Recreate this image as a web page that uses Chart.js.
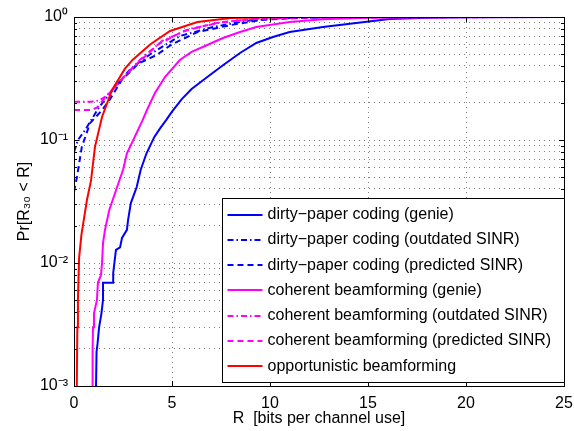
<!DOCTYPE html>
<html>
<head>
<meta charset="utf-8">
<script src="https://cdn.jsdelivr.net/npm/chart.js@4.4.1/dist/chart.umd.min.js"></script>
<style>
  html, body { margin: 0; padding: 0; background: #fff; }
</style>
</head>
<body>
<canvas id="chart" width="574" height="431"></canvas>
<script>
// values (R in bits per channel use, P = Pr[R30 < R])
const dpcGenieR = [1.12, 1.15, 1.2, 1.28, 1.4, 1.48, 1.48, 2.0, 2.0, 2.14, 2.35, 2.45, 2.7, 2.76, 2.9, 3.2, 3.4, 3.7, 4.1, 4.4, 4.7, 5.0, 5.5, 6.0, 6.8, 7.6, 8.47, 9.3, 10.15, 11, 12.7, 14.4, 16.1, 18, 20, 25]
const dpcGenieP = [0.0009, 0.0019, 0.0022, 0.003, 0.0039, 0.005, 0.0069, 0.0069, 0.0083, 0.0128, 0.0134, 0.016, 0.0186, 0.0224, 0.0307, 0.0415, 0.057, 0.078, 0.106, 0.125, 0.145, 0.17, 0.215, 0.26, 0.325, 0.405, 0.51, 0.615, 0.687, 0.755, 0.83, 0.894, 0.963, 0.985, 0.995, 1]

const dpcOutdatedR = [0, 0.2, 0.56, 1.28, 2.1, 2.9, 3.9, 5.4, 7.1, 8.8, 10.5, 12.5, 15, 25]
const dpcOutdatedP = [0.08, 0.1, 0.12, 0.185, 0.27, 0.38, 0.5, 0.7, 0.83, 0.93, 0.975, 0.992, 0.998, 1]

const dpcPredictedR = [0, 0.15, 0.4, 0.82, 1.43, 1.8, 2.45, 3.3, 4.2, 5.0, 6.3, 8, 9.6, 11.5, 14, 25]
const dpcPredictedP = [0.038, 0.05, 0.088, 0.137, 0.175, 0.21, 0.31, 0.42, 0.49, 0.6, 0.755, 0.86, 0.95, 0.985, 0.997, 1]

const cbGenieR = [0.92, 0.95, 0.97, 1.02, 1.17, 1.22, 1.38, 1.43, 1.48, 1.58, 1.8, 2.2, 2.5, 2.7, 3.1, 3.5, 3.72, 4.13, 4.64, 5.4, 6.0, 6.8, 7.6, 8.47, 9.3, 11, 12.7, 15, 18, 25]
const cbGenieP = [0.0009, 0.002, 0.003, 0.0039, 0.005, 0.0069, 0.008, 0.01, 0.0145, 0.0186, 0.027, 0.0415, 0.057, 0.078, 0.106, 0.145, 0.175, 0.241, 0.325, 0.447, 0.52, 0.592, 0.675, 0.755, 0.83, 0.91, 0.958, 0.985, 0.996, 1]

const cbOutdatedR = [0, 0.9, 1.3, 1.6, 2.0, 2.5, 3.37, 4.5, 5.9, 7.6, 9.6, 12, 25]
const cbOutdatedP = [0.205, 0.205, 0.21, 0.225, 0.26, 0.32, 0.45, 0.64, 0.8, 0.91, 0.975, 0.995, 1]

const cbPredictedR = [0, 0.92, 1.2, 1.58, 2.0, 2.5, 3.3, 4.3, 5.6, 7.2, 9, 11.5, 25]
const cbPredictedP = [0.175, 0.175, 0.185, 0.22, 0.26, 0.32, 0.43, 0.6, 0.77, 0.89, 0.96, 0.992, 1]

const obfR = [0.14, 0.17, 0.2, 0.26, 0.38, 0.66, 0.87, 1.07, 1.43, 1.94, 2.6, 3.0, 3.9, 4.9, 6.3, 8, 10, 12, 25]
const obfP = [0.0009, 0.003, 0.005, 0.011, 0.017, 0.0325, 0.047, 0.088, 0.154, 0.255, 0.38, 0.45, 0.6, 0.77, 0.91, 0.98, 0.995, 0.999, 1]

const seriesLabels = [
    'dirty\u2212paper coding (genie)',
    'dirty\u2212paper coding (outdated SINR)',
    'dirty\u2212paper coding (predicted SINR)',
    'coherent beamforming (genie)',
    'coherent beamforming (outdated SINR)',
    'coherent beamforming (predicted SINR)',
    'opportunistic beamforming'
]

const xTicks = [0, 5, 10, 15, 20, 25]
const yDecades = [0.001, 0.01, 0.1, 1]
const yDecadeLabels = ['10\u207B\u00B3', '10\u207B\u00B2', '10\u207B\u00B9', '10\u2070']

const FONT = '"Liberation Sans", Arial, Helvetica, sans-serif'
const BLUE = '#0000ff'
const MAGENTA = '#ff00ff'
const RED = '#ff0000'
const DASH = [6, 4]
const DASHDOT = [6, 3, 1.5, 3]
const GRID = 'rgba(0,0,0,0.5)'

function zip(xs, ys) {
    return xs.map((x, i) => ({ x: x, y: ys[i] }))
}

// all minor + major ticks of the log axis
let yTickValues = []
for (let d = 0; d < yDecades.length - 1; d++) {
    for (let m = 1; m < 10; m++) yTickValues.push(yDecades[d] * m)
}
yTickValues.push(1)

function isDecade(v) {
    const l = Math.log10(v)
    return Math.abs(l - Math.round(l)) < 1e-6
}

function makeSet(i, r, p, color, dash) {
    return {
        label: seriesLabels[i],
        data: zip(r, p),
        borderColor: color,
        borderWidth: 2,
        borderDash: dash,
        pointRadius: 0,
        tension: 0,
        fill: false,
        order: 6 - i
    }
}

const datasets = [
    makeSet(0, dpcGenieR, dpcGenieP, BLUE, []),
    makeSet(1, dpcOutdatedR, dpcOutdatedP, BLUE, DASHDOT),
    makeSet(2, dpcPredictedR, dpcPredictedP, BLUE, DASH),
    makeSet(3, cbGenieR, cbGenieP, MAGENTA, []),
    makeSet(4, cbOutdatedR, cbOutdatedP, MAGENTA, DASHDOT),
    makeSet(5, cbPredictedR, cbPredictedP, MAGENTA, DASH),
    makeSet(6, obfR, obfP, RED, [])
]

// box round the axes plus the inward tick marks
const axesBox = {
    id: 'axesBox',
    afterDatasetsDraw(chart) {
        const { ctx, chartArea: a, scales } = chart
        ctx.save()
        ctx.strokeStyle = '#000'
        ctx.lineWidth = 1
        ctx.setLineDash([])
        ctx.beginPath()
        xTicks.forEach(v => {
            const px = Math.round(scales.x.getPixelForValue(v)) + 0.5
            ctx.moveTo(px, a.bottom); ctx.lineTo(px, a.bottom - 5)
            ctx.moveTo(px, a.top); ctx.lineTo(px, a.top + 5)
        })
        yTickValues.forEach(v => {
            const py = Math.round(scales.y.getPixelForValue(v)) + 0.5
            const len = isDecade(v) ? 5 : 3
            ctx.moveTo(a.left, py); ctx.lineTo(a.left + len, py)
            ctx.moveTo(a.right, py); ctx.lineTo(a.right - len, py)
        })
        ctx.stroke()
        ctx.strokeRect(Math.round(a.left) + 0.5, Math.round(a.top) + 0.5,
            Math.round(a.right - a.left), Math.round(a.bottom - a.top))
        ctx.restore()
    }
}

const legendBox = {
    id: 'legendBox',
    afterDraw(chart) {
        const { ctx, chartArea: a } = chart
        const sets = chart.data.datasets
        ctx.save()
        ctx.font = '16px ' + FONT
        const textW = Math.max(...sets.map(d => ctx.measureText(d.label).width))
        const rowH = 25.3
        const w = Math.round(textW + 58)
        const h = Math.round(sets.length * rowH + 7)
        const x0 = Math.round(a.right) - w + 0.5
        const y0 = Math.round(a.bottom) - 4 - h + 0.5
        ctx.fillStyle = '#fff'
        ctx.fillRect(x0, y0, w, h)
        ctx.strokeStyle = '#000'
        ctx.lineWidth = 1
        ctx.strokeRect(x0, y0, w, h)
        sets.forEach((d, i) => {
            const cy = y0 + 16 + i * rowH
            ctx.strokeStyle = d.borderColor
            ctx.lineWidth = 2
            ctx.setLineDash(d.borderDash)
            ctx.beginPath()
            ctx.moveTo(x0 + 5, Math.round(cy))
            ctx.lineTo(x0 + 40, Math.round(cy))
            ctx.stroke()
            ctx.setLineDash([])
            ctx.fillStyle = '#000'
            ctx.textBaseline = 'middle'
            ctx.fillText(d.label, x0 + 45, cy)
        })
        ctx.restore()
    }
}

const ctx = document.getElementById('chart').getContext('2d')

const chart = new Chart(ctx, {
    type: 'line',
    data: { datasets: datasets },
    options: {
        responsive: false,
        animation: false,
        devicePixelRatio: 1,
        layout: { padding: { top: 17, right: 10, left: 0, bottom: 0 } },
        plugins: {
            legend: { display: false },
            tooltip: { enabled: false }
        },
        scales: {
            x: {
                type: 'linear',
                min: 0,
                max: 25,
                afterBuildTicks: s => { s.ticks = xTicks.map(v => ({ value: v })) },
                afterFit: s => { s.height = 45; s.paddingLeft = 0; s.paddingRight = 0 },
                ticks: { color: '#000', padding: 8, font: { family: FONT, size: 16 } },
                grid: { color: GRID, lineWidth: 1, drawTicks: false },
                border: { display: false, dash: [1, 4] },
                title: {
                    display: true,
                    text: 'R  [bits per channel use]',
                    color: '#000',
                    font: { family: FONT, size: 16 },
                    padding: { top: 0, bottom: 3 }
                }
            },
            y: {
                type: 'logarithmic',
                min: 0.001,
                max: 1,
                afterBuildTicks: s => { s.ticks = yTickValues.map(v => ({ value: v })) },
                afterFit: s => { s.width = 74; s.paddingTop = 0; s.paddingBottom = 0 },
                ticks: {
                    autoSkip: false,
                    color: '#000',
                    padding: 6,
                    font: { family: FONT, size: 16 },
                    callback: v => {
                        if (!isDecade(v)) return ''
                        const k = yDecades.findIndex(d => Math.abs(Math.log10(d) - Math.log10(v)) < 1e-6)
                        return k >= 0 ? yDecadeLabels[k] : ''
                    }
                },
                grid: { color: GRID, lineWidth: 1, drawTicks: false },
                border: { display: false, dash: [1, 4] },
                title: {
                    display: true,
                    text: 'Pr[R\u2083\u2080 < R]',
                    color: '#000',
                    font: { family: FONT, size: 16 },
                    padding: { top: 15, bottom: 0 }
                }
            }
        }
    },
    plugins: [axesBox, legendBox]
})
</script>
</body>
</html>
